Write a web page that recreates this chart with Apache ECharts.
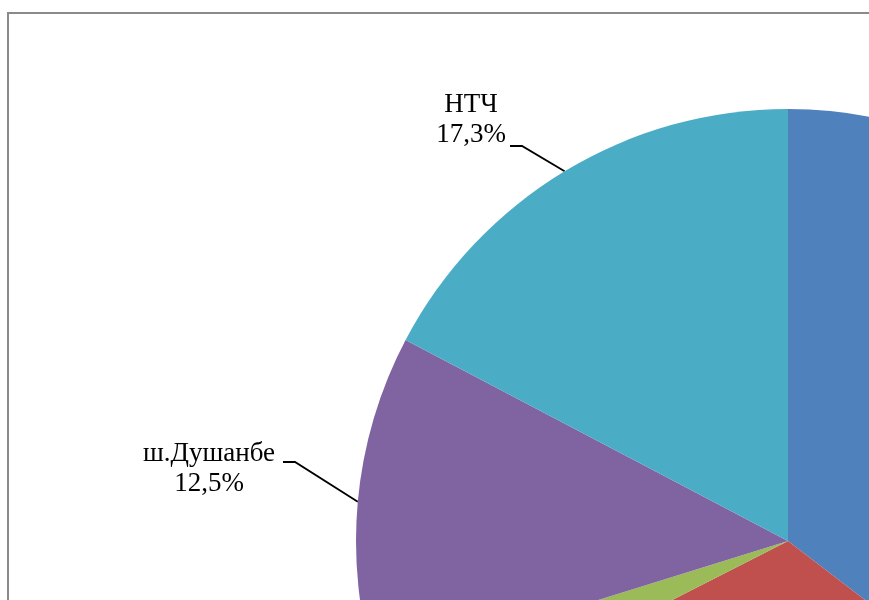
<!DOCTYPE html>
<html>
<head>
<meta charset="utf-8">
<title>Pie</title>
<script src="https://cdn.jsdelivr.net/npm/echarts@6/dist/echarts.min.js"></script>
<style>
  html, body { margin: 0; padding: 0; background: #fff; }
  #chart { width: 869px; height: 600px; }
</style>
</head>
<body>
<div id="chart"></div>
<script>
// slices, clockwise from 12 o'clock
var categories = ['вилояти Суғд', 'вилояти Хатлон', 'ВМКБ', 'ш.Душанбе', 'НТЧ'];
var values = [35.4, 32.1, 2.7, 12.5, 17.3];
var colors = ['#4F81BD', '#C0504D', '#9BBB59', '#8064A2', '#4BACC6'];
var shownLabels = [false, false, false, true, true];

// where the visible labels sit (block centre x, top y) and where their leader line ends
var labelSpots = {
    3: { x: 209, y: 439, lx: 283, ly: 462 },
    4: { x: 471, y: 90, lx: 510, ly: 146 }
};

var total = values.reduce(function (a, b) { return a + b; }, 0);

var chart = echarts.init(document.getElementById('chart'));

var pieData = categories.map(function (name, i) {
    return {
        name: name,
        value: values[i],
        itemStyle: { color: colors[i] },
        label: { show: shownLabels[i] },
        labelLine: { show: shownLabels[i] }
    };
});

var option = {
    backgroundColor: '#fff',
    animation: false,
    graphic: [{
        type: 'rect',
        shape: { x: 8, y: 13, width: 1000, height: 800 },
        style: { fill: 'none', stroke: '#8a8a8a', lineWidth: 2 },
        z: 0
    }],
    series: [{
        type: 'pie',
        center: [788, 541],
        radius: 432,
        startAngle: 90,
        clockwise: true,
        avoidLabelOverlap: false,
        itemStyle: { borderWidth: 0 },
        label: {
            position: 'outside',
            fontFamily: '"Liberation Serif", "DejaVu Serif", serif',
            fontSize: 27,
            lineHeight: 30,
            color: '#000',
            align: 'center',
            formatter: function (p) {
                var pct = (p.value / total * 100).toFixed(1).replace('.', ',');
                return p.name + '\n' + pct + '%';
            }
        },
        labelLine: {
            show: true,
            length: 20,
            length2: 12,
            lineStyle: { color: '#000', width: 1.8 }
        },
        labelLayout: function (params) {
            var s = labelSpots[params.dataIndex];
            if (!s) {
                return {};
            }
            var pts = params.labelLinePoints;
            var p0 = pts ? pts[0] : [s.lx + 40, s.ly + 20];
            return {
                x: s.x,
                y: s.y,
                align: 'center',
                verticalAlign: 'top',
                labelLinePoints: [p0, [s.lx + 12, s.ly], [s.lx, s.ly]]
            };
        },
        data: pieData
    }]
};

chart.setOption(option);
</script>
</body>
</html>
